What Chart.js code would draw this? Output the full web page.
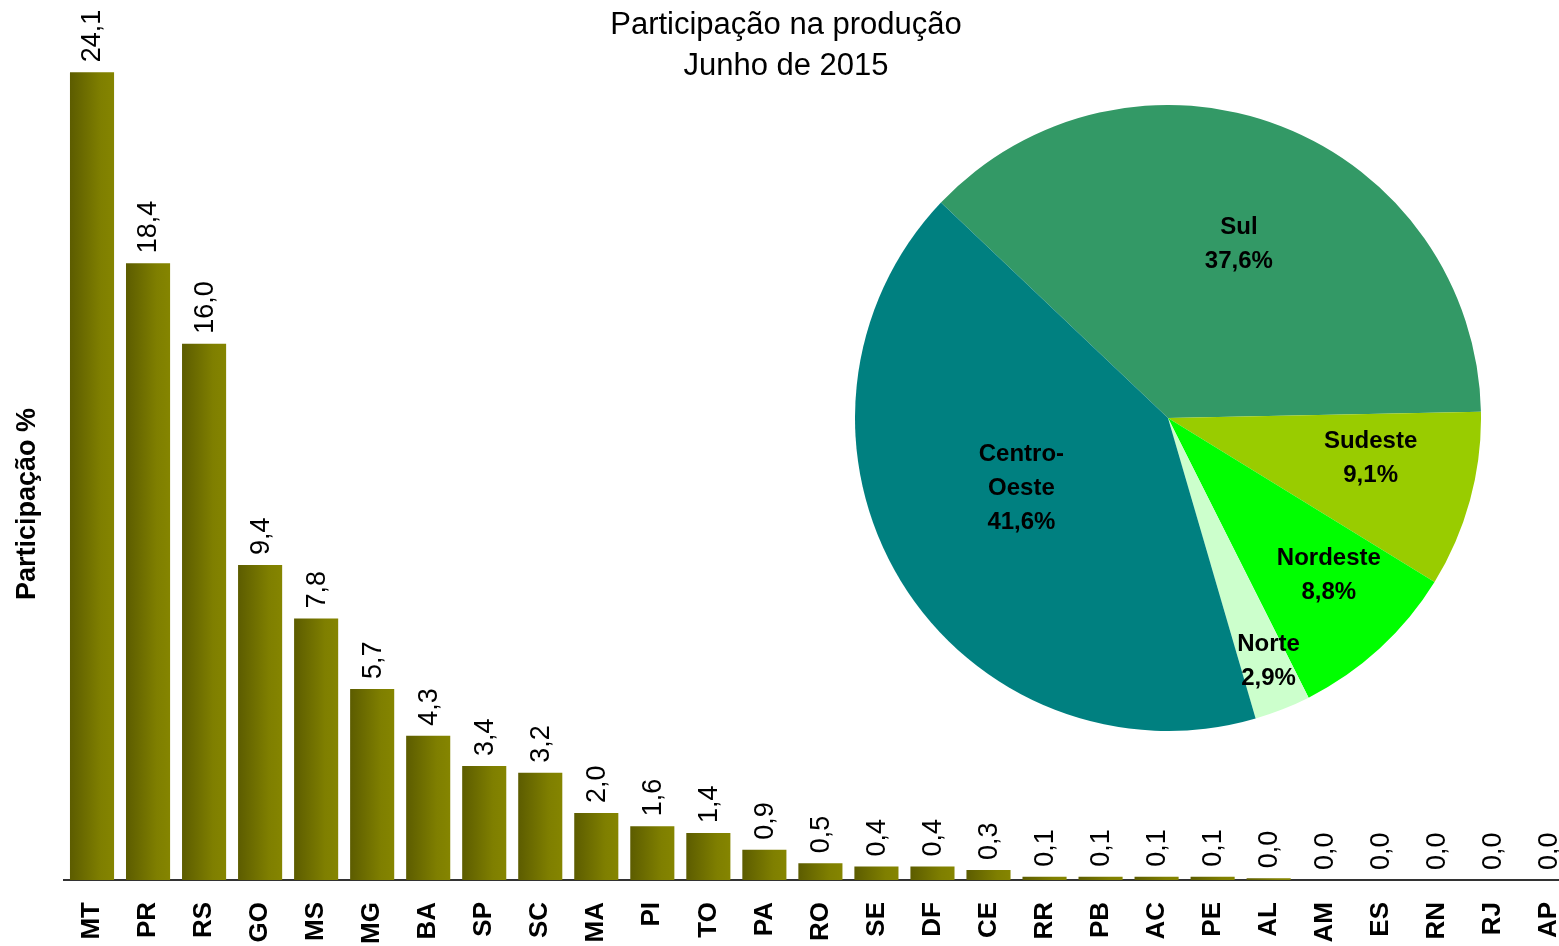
<!DOCTYPE html>
<html lang="pt-BR">
<head>
<meta charset="utf-8">
<title>Participação na produção - Junho de 2015</title>
<script src="https://cdn.jsdelivr.net/npm/chart.js@4.4.1/dist/chart.umd.min.js"></script>
<style>
  html, body { margin: 0; padding: 0; background: #fff; overflow: hidden; }
  #wrap { position: relative; width: 1559px; height: 946px; overflow: hidden; }
  #barChart { position: absolute; left: 0; top: 0; }
  #pieChart { position: absolute; left: 855px; top: 105px; }
</style>
</head>
<body>
<div id="wrap">
  <canvas id="barChart" width="1602" height="946"></canvas>
  <canvas id="pieChart" width="626" height="626"></canvas>
</div>
<script>
const titleLines = ["Participação na produção", "Junho de 2015"];
const yTitle = "Participação %";

const states = ["MT", "PR", "RS", "GO", "MS", "MG", "BA", "SP", "SC", "MA", "PI", "TO", "PA", "RO",
                "SE", "DF", "CE", "RR", "PB", "AC", "PE", "AL", "AM", "ES", "RN", "RJ", "AP"];
const shares = [24.1, 18.4, 16.0, 9.4, 7.8, 5.7, 4.3, 3.4, 3.2, 2.0, 1.6, 1.4, 0.9, 0.5,
                0.4, 0.4, 0.3, 0.1, 0.1, 0.1, 0.1, 0.049, 0, 0, 0, 0, 0];

const regions = ["Sul", "Sudeste", "Nordeste", "Norte", "Centro-Oeste"];
const regionShares = [37.6, 9.1, 8.8, 2.9, 41.6];
const regionColors = ["#339966", "#99cc00", "#00ff00", "#ccffcc", "#008080"];
// where each pie label sits: fraction of the radius, angle nudge in degrees
const regionLabelPos = [[0.60, 1], [0.66, -4], [0.72, -3], [0.84, -1], [0.52, 5.6]];

const FONT = '"Liberation Sans", Arial, Helvetica, sans-serif';
const fmt = v => v.toFixed(1).replace(".", ",");

// ── BAR CHART ──
const barText = {
    id: "barText",
    afterDatasetsDraw(chart) {
        const { ctx } = chart;
        const meta = chart.getDatasetMeta(0);
        ctx.save();
        ctx.fillStyle = "#000";
        ctx.font = "27px " + FONT;
        ctx.textAlign = "left";
        ctx.textBaseline = "middle";
        meta.data.forEach((bar, i) => {
            ctx.save();
            ctx.translate(bar.x + 1, bar.y - 10);
            ctx.rotate(-Math.PI / 2);
            ctx.fillText(fmt(shares[i]), 0, 0);
            ctx.restore();
        });
        ctx.restore();
    },
    afterDraw(chart) {
        const { ctx } = chart;
        ctx.save();
        ctx.fillStyle = "#000";
        ctx.textAlign = "center";
        ctx.textBaseline = "middle";
        ctx.font = "31px " + FONT;
        titleLines.forEach((t, i) => ctx.fillText(t, 786, 25 + i * 41));
        ctx.font = "bold 27px " + FONT;
        ctx.translate(28, 504);
        ctx.rotate(-Math.PI / 2);
        ctx.fillText(yTitle, 0, 0);
        ctx.restore();
    }
};

new Chart(document.getElementById("barChart"), {
    type: "bar",
    data: {
        labels: states,
        datasets: [{
            data: shares,
            barPercentage: 0.787,
            categoryPercentage: 1,
            borderWidth: 0,
            backgroundColor: (c) => {
                const chart = c.chart;
                const x = chart.scales.x;
                if (!chart.chartArea || !x || c.type !== "data") return "#737300";
                const cx = x.getPixelForValue(c.dataIndex);
                const half = x.width / states.length * 0.787 / 2;
                const g = chart.ctx.createLinearGradient(cx - half, 0, cx + half, 0);
                g.addColorStop(0, "#5c5c00");
                g.addColorStop(0.7, "#7f7f00");
                g.addColorStop(1, "#858500");
                return g;
            }
        }]
    },
    options: {
        responsive: false,
        animation: false,
        layout: { padding: { top: 42, left: 64, right: 0, bottom: 0 } },
        scales: {
            x: {
                grid: { display: false, drawTicks: false },
                border: { display: true, color: "#333", width: 2 },
                ticks: {
                    autoSkip: false,
                    minRotation: 90,
                    maxRotation: 90,
                    padding: 22,
                    color: "#000",
                    font: { family: FONT, size: 26, weight: "bold" }
                },
                afterFit(s) { s.height = 66; }
            },
            y: {
                display: false,
                min: 0,
                max: 25
            }
        },
        plugins: {
            legend: { display: false },
            tooltip: { enabled: false }
        }
    },
    plugins: [barText]
});

// ── PIE CHART ──
const pieText = {
    id: "pieText",
    afterDatasetsDraw(chart) {
        const { ctx } = chart;
        const meta = chart.getDatasetMeta(0);
        ctx.save();
        ctx.fillStyle = "#000";
        ctx.font = "bold 24px " + FONT;
        ctx.textAlign = "center";
        ctx.textBaseline = "middle";
        meta.data.forEach((arc, i) => {
            const [frac, nudge] = regionLabelPos[i];
            const mid = (arc.startAngle + arc.endAngle) / 2 + nudge * Math.PI / 180;
            const r = arc.outerRadius * frac;
            const px = arc.x + Math.cos(mid) * r;
            const py = arc.y + Math.sin(mid) * r;
            const lines = regions[i].replace("-", "-\n").split("\n");
            lines.push(fmt(regionShares[i]) + "%");
            const lh = 34;
            const y0 = py - (lines.length - 1) * lh / 2;
            lines.forEach((l, k) => ctx.fillText(l, px, y0 + k * lh));
        });
        ctx.restore();
    }
};

new Chart(document.getElementById("pieChart"), {
    type: "pie",
    data: {
        labels: regions,
        datasets: [{
            data: regionShares,
            backgroundColor: regionColors,
            borderWidth: 0
        }]
    },
    options: {
        responsive: false,
        animation: false,
        rotation: -46.5,
        layout: { padding: 0 },
        plugins: {
            legend: { display: false },
            tooltip: { enabled: false }
        }
    },
    plugins: [pieText]
});
</script>
</body>
</html>
